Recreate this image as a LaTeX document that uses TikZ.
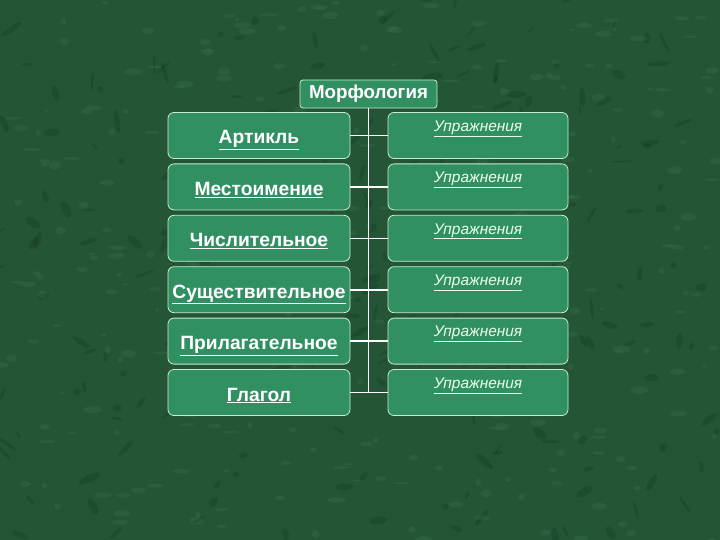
\documentclass[tikz,border=0pt]{standalone}
\usepackage{fontspec}
\setmainfont{Liberation Sans}
\usetikzlibrary{positioning}
\definecolor{marble}{RGB}{36,86,54}
\definecolor{marbledark}{RGB}{16,48,28}
\definecolor{marblelight}{RGB}{70,125,85}
\definecolor{boxgreen}{RGB}{48,144,98}
\definecolor{rimgreen}{RGB}{200,235,210}
\begin{document}
\begin{tikzpicture}[x=1bp, y=-1bp, node distance=51.4bp,
    topic/.style={rectangle, rounded corners=6bp, draw=rimgreen, line width=0.8bp, fill=boxgreen,
        minimum width=182bp, minimum height=46bp, text=white, text height=20bp, text depth=3bp,
        font=\bfseries\fontsize{19.3}{21}\selectfont},
    drill/.style={rectangle, rounded corners=6bp, draw=rimgreen, line width=0.8bp, fill=boxgreen,
        minimum width=180bp, minimum height=46bp,
        label={[anchor=north, yshift=-5bp, text=white!92!green,
            font=\itshape\fontsize{15.5}{17}\selectfont]north:\underline{Упражнения}}},
    link/.style={draw=white, line width=1.6bp}]
    % Background
    \useasboundingbox (0,0) rectangle (720,540);
    \begin{scope}
        \clip (0,0) rectangle (720,540);
        \fill[marble] (0,0) rectangle (720,540);
        \pgfmathsetseed{7}
        \foreach \k in {1,...,500}
            \fill[marbledark, opacity=0.25, rotate around={rnd*180:(rnd*720,rnd*540)}]
                (rnd*720,rnd*540) ellipse ({3+rnd*9} and {1+rnd*3});
        \foreach \k in {1,...,300}
            \fill[marblelight, opacity=0.22] (rnd*720,rnd*540) ellipse ({2+rnd*7} and {1+rnd*3});
    \end{scope}

    % Title
    \node[rectangle, rounded corners=3bp, draw=rimgreen, line width=0.8bp, fill=boxgreen,
        minimum width=137bp, minimum height=28bp, text=white,
        font=\bfseries\fontsize{18.8}{20}\selectfont] (morph) at (368.5,94) {Морфология};

    % Parts of speech
    \node[topic] (p1) at (259,135.5) {\underline{Артикль}};
    \node[topic, below of=p1] (p2) {\underline{Местоимение}};
    \node[topic, below of=p2] (p3) {\underline{Числительное}};
    \node[topic, below of=p3] (p4) {\underline{Существительное}};
    \node[topic, below of=p4] (p5) {\underline{Прилагательное}};
    \node[topic, below of=p5] (p6) {\underline{Глагол}};

    % Exercises
    \node[drill] (e1) at (478,135.5) {};
    \node[drill, below of=e1] (e2) {};
    \node[drill, below of=e2] (e3) {};
    \node[drill, below of=e3] (e4) {};
    \node[drill, below of=e4] (e5) {};
    \node[drill, below of=e5] (e6) {};

    % Connections
    \coordinate (trunk) at (morph.south |- p6.east);
    \draw[link] (morph.south) -- (trunk);
    \foreach \i in {1,...,6}
        \draw[link] (p\i.east) -- (e\i.west);
\end{tikzpicture}
\end{document}
